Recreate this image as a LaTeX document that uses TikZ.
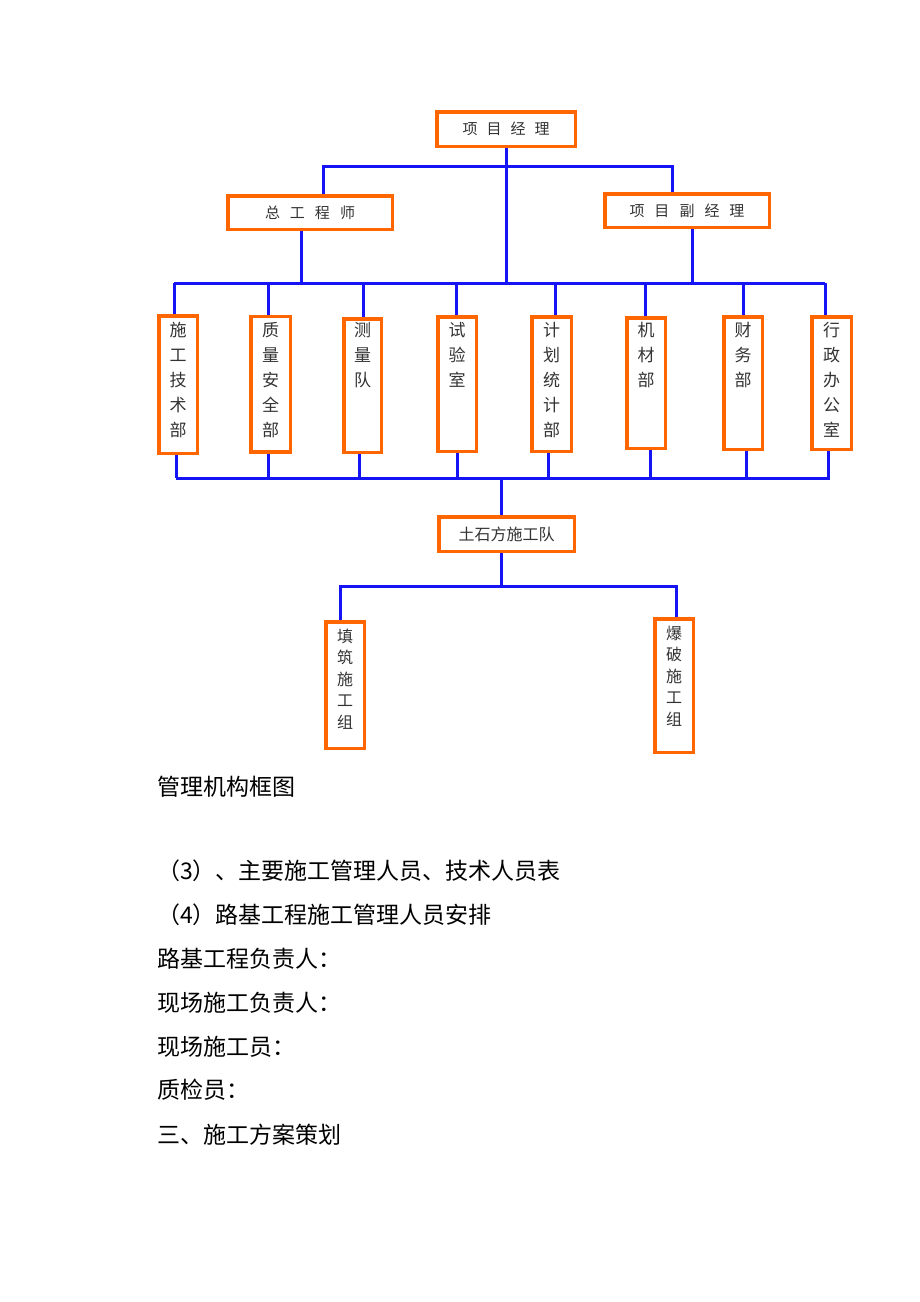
\documentclass[tikz,border=0pt]{standalone}
\usepackage{fontspec}
\setmainfont{Noto Sans CJK SC}
\definecolor{orng}{RGB}{255,102,0}
\definecolor{lblue}{RGB}{20,20,245}
\tikzset{
  obox/.style={draw=orng, line width=3.5pt, fill=white, inner sep=0pt},
  conn/.style={draw=lblue, line width=3pt},
  hlab/.style={text=black!80},
  vlab/.style={anchor=north, inner sep=0pt, align=center, text=black!80, font=\fontsize{17}{25}\selectfont},
  glab/.style={anchor=north, inner sep=0pt, align=center, text=black!80, font=\fontsize{16}{21.5}\selectfont},
  body/.style={anchor=west, inner sep=0pt, font=\fontsize{23}{23}\selectfont}
}
\begin{document}
\begin{tikzpicture}[x=1pt,y=-1pt]
\fill[white] (0,0) rectangle (920,1302);
\useasboundingbox (0,0) rectangle (920,1302);

% top level
\node[obox, hlab, minimum width=138.5, minimum height=34.5] (pm) at (506,129)
  {\fontsize{15}{15}\selectfont 项\hspace{9pt}目\hspace{9pt}经\hspace{9pt}理};
\node[obox, hlab, minimum width=164.5, minimum height=33.5] (ce) at (310,212.5)
  {\fontsize{15}{15}\selectfont 总\hspace{10pt}工\hspace{10pt}程\hspace{10pt}师};
\node[obox, hlab, minimum width=164.5, minimum height=33.5] (dpm) at (687,210.5)
  {\fontsize{15}{15}\selectfont 项\hspace{10pt}目\hspace{10pt}副\hspace{10pt}经\hspace{10pt}理};

\coordinate (jl) at (323,166);
\coordinate (jr) at (672,166);
\coordinate (bl) at (174,283);
\coordinate (br) at (825,283);
\coordinate (cl) at (176,478);
\coordinate (cr) at (830,478);
\coordinate (el) at (340,586);
\coordinate (er) at (676,586);

\draw[conn] (pm.south) -- (pm.south |- bl);
\draw[conn] (ce.north -| jl) -- (jl) -- (jr) -- (dpm.north -| jr);
\draw[conn] ([xshift=-9pt]ce.south) -- ([xshift=-9pt]ce.south |- bl);
\draw[conn] ([xshift=5pt]dpm.south) -- ([xshift=5pt]dpm.south |- bl);
\draw[conn] (bl) -- (br);
\draw[conn] (cl) -- (cr);

% departments
\foreach \i/\cx/\cy/\w/\h/\dt/\db/\t in {
  1/178/384.5/38.5/137.5/-4/-2/{施\\工\\技\\术\\部},
  2/270.5/384/39.5/135.5/-2.5/-2.5/{质\\量\\安\\全\\部},
  3/362.5/385.5/37.5/133.5/0.5/-3.5/{测\\量\\队},
  4/457/384/38.5/134.5/-1/0/{试\\验\\室},
  5/551.5/384/39.5/134.5/3.5/-3.5/{计\\划\\统\\计\\部},
  6/646/383/38.5/130.5/-1/4/{机\\材\\部},
  7/743/383/38.5/132.5/0/3/{财\\务\\部},
  8/831.5/383/39.5/132.5/-6.5/-3.5/{行\\政\\办\\公\\室}}
{
  \node[obox, minimum width=\w, minimum height=\h] (d\i) at (\cx,\cy) {};
  \node[vlab] (l\i) at (\cx,322) {\t};
  \draw[conn] ([xshift=\dt pt]d\i.north) -- ([xshift=\dt pt]d\i.north |- bl);
  \draw[conn] ([xshift=\db pt]d\i.south) -- ([xshift=\db pt]d\i.south |- cl);
}

% earthwork team
\node[obox, hlab, minimum width=135.5, minimum height=34.5] (ts) at (506.5,534)
  {\fontsize{16}{16}\selectfont 土石方施工队};
\draw[conn] ([xshift=-5.5pt]ts.north) -- ([xshift=-5.5pt]ts.north |- cl);
\draw[conn] ([xshift=-5.5pt]ts.south) -- ([xshift=-5.5pt]ts.south |- el);

\node[obox, minimum width=38.5, minimum height=126.5] (g1) at (345,685) {};
\node[glab] (gl1) at (345,628.5) {填\\筑\\施\\工\\组};
\node[obox, minimum width=38.5, minimum height=133.5] (g2) at (674,685.5) {};
\node[glab] (gl2) at (674,625.5) {爆\\破\\施\\工\\组};
\draw[conn] (g1.north -| el) -- (el) -- (er) -- (g2.north -| er);

% body text
\node[body] (t1) at (157,787) {管理机构框图};
\node[body] (t2) at (157,871) {（3）、主要施工管理人员、技术人员表};
\node[body] (t3) at (157,915) {（4）路基工程施工管理人员安排};
\node[body] (t4) at (157,959) {路基工程负责人：};
\node[body] (t5) at (157,1003) {现场施工负责人：};
\node[body] (t6) at (157,1047) {现场施工员：};
\node[body] (t7) at (157,1090) {质检员：};
\node[body] (t8) at (157,1135) {三、施工方案策划};
\end{tikzpicture}
\end{document}
